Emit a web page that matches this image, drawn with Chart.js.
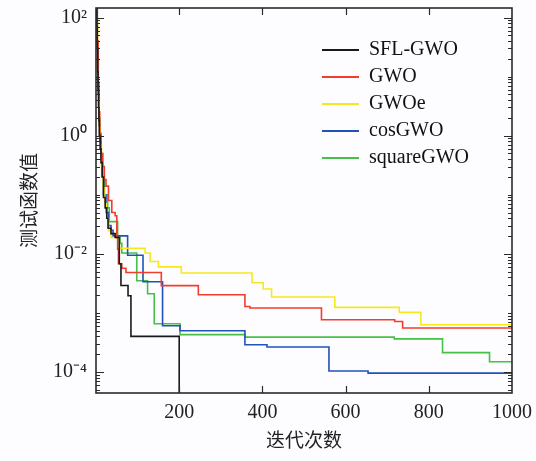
<!DOCTYPE html>
<html>
<head>
<meta charset="utf-8">
<script src="https://cdn.jsdelivr.net/npm/chart.js@4.4.0/dist/chart.umd.min.js"></script>
<style>
    body { margin: 0; background: #fdfdff; }
    canvas { display: block; }
</style>
</head>
<body>
<canvas id="convChart" width="536" height="461"></canvas>
<script>
// convergence curves (iteration where a level starts, level)
const seriesNames = ['SFL-GWO', 'GWO', 'GWOe', 'cosGWO', 'squareGWO'];
const seriesColors = ['#1a1a1a', '#f23c2c', '#f7e81e', '#2252b8', '#46c046'];

const sflIter = [1, 2, 3, 4, 5, 6, 7, 8, 10, 12, 15, 18, 22, 26, 29, 36, 46, 56, 60, 77, 84, 200, 1000];
const sflVal = [150, 70, 30, 12, 6, 3, 1.8, 1.0, 0.6, 0.35, 0.2, 0.09, 0.06, 0.04, 0.027, 0.022, 0.019, 0.0068, 0.0029, 0.00195, 0.0004, 1e-10, 1e-10];

const gwoIter = [1, 3, 5, 7, 9, 12, 16, 20, 24, 30, 38, 46, 50, 52, 54, 62, 72, 157, 246, 358, 370, 542, 718, 737, 1000];
const gwoVal = [150, 40, 8, 2.5, 1.1, 0.5, 0.3, 0.18, 0.14, 0.08, 0.05, 0.044, 0.019, 0.012, 0.0068, 0.0057, 0.00483, 0.00289, 0.00203, 0.00128, 0.00121, 0.000766, 0.000716, 0.000554, 0.000554];

const gwoeIter = [1, 2, 4, 6, 8, 10, 13, 17, 21, 25, 30, 36, 56, 118, 130, 150, 205, 375, 402, 422, 574, 729, 781, 1000];
const gwoeVal = [150, 80, 20, 4, 1.4, 0.7, 0.3, 0.13, 0.07, 0.04, 0.0245, 0.0189, 0.0124, 0.0103, 0.0074, 0.0060, 0.00472, 0.00324, 0.00253, 0.00186, 0.00124, 0.00102, 0.00063, 0.00063];

const cosIter = [1, 3, 5, 7, 9, 12, 15, 18, 24, 30, 36, 41, 76, 113, 160, 202, 358, 411, 560, 654, 1000];
const cosVal = [150, 30, 5, 1.5, 0.8, 0.4, 0.2, 0.1, 0.05, 0.03, 0.025, 0.0201, 0.00944, 0.00337, 0.000607, 0.000499, 0.000289, 0.000264, 0.000104, 0.0000955, 0.0000955];

const sqIter = [1, 3, 5, 7, 9, 12, 16, 20, 28, 32, 52, 58, 62, 98, 124, 140, 202, 358, 717, 833, 946, 1000];
const sqVal = [150, 40, 7, 2, 1, 0.5, 0.22, 0.1, 0.06, 0.035, 0.02, 0.015, 0.0103, 0.0035, 0.00211, 0.000656, 0.000428, 0.000389, 0.000363, 0.000212, 0.000149, 0.000149];

const xTicks = [200, 400, 600, 800, 1000];
const yLabelExps = [-4, -2, 0, 2];
const yMin = 4.4e-5, yMax = 1.45e2;

const allIter = [sflIter, gwoIter, gwoeIter, cosIter, sqIter];
const allVal = [sflVal, gwoVal, gwoeVal, cosVal, sqVal];

const sup = {'2': '²', '0': '⁰', '-2': '⁻²', '-4': '⁻⁴'};
const serif = 'Liberation Serif';

function expOf(v) {
    const e = Math.log10(v);
    return Math.abs(e - Math.round(e)) < 1e-6 ? Math.round(e) : null;
}

// all the 1..9 x 10^n minor positions within the axis range
const yTickValues = [];
for (let e = -5; e <= 2; e++) {
    for (let k = 1; k <= 9; k++) {
        const v = k * Math.pow(10, e);
        if (v >= yMin && v <= yMax) yTickValues.push(v);
    }
}

const datasets = seriesNames.map((name, i) => ({
    label: name,
    data: allIter[i].map((x, j) => ({x: x, y: allVal[i][j]})),
    borderColor: seriesColors[i],
    backgroundColor: seriesColors[i],
    borderWidth: 1.6,
    pointRadius: 0,
    stepped: 'before',
    fill: false
}));

// box around the plot with inward ticks on all four sides
const frameTicks = {
    id: 'frameTicks',
    afterLayout(chart) {
        const lg = chart.legend;
        lg.left = 315;
        lg.right = 512;
        lg.top = 33;
        lg.bottom = 393;
    },
    afterDraw(chart) {
        const {ctx, chartArea: a, scales: {x, y}} = chart;
        ctx.save();
        ctx.strokeStyle = '#2a2a2a';
        ctx.lineWidth = 1.2;
        ctx.beginPath();
        x.ticks.forEach(t => {
            if (t.value <= x.min || t.value >= x.max) return;
            const px = Math.round(x.getPixelForValue(t.value)) + 0.5;
            ctx.moveTo(px, a.bottom);
            ctx.lineTo(px, a.bottom - 7);
            ctx.moveTo(px, a.top);
            ctx.lineTo(px, a.top + 7);
        });
        y.ticks.forEach(t => {
            const py = Math.round(y.getPixelForValue(t.value)) + 0.5;
            const e = expOf(t.value);
            const len = (e !== null && yLabelExps.includes(e)) ? 8 : 4;
            ctx.moveTo(a.left, py);
            ctx.lineTo(a.left + len, py);
            ctx.moveTo(a.right, py);
            ctx.lineTo(a.right - len, py);
        });
        ctx.stroke();
        ctx.lineWidth = 1.6;
        ctx.strokeRect(a.left, a.top, a.right - a.left, a.bottom - a.top);
        ctx.restore();
    }
};

new Chart(document.getElementById('convChart'), {
    type: 'line',
    data: {datasets: datasets},
    options: {
        responsive: false,
        animation: false,
        layout: {padding: {top: 8, right: 24, left: 0, bottom: 0}},
        plugins: {
            tooltip: {enabled: false},
            legend: {
                position: 'chartArea',
                align: 'start',
                labels: {
                    boxWidth: 37,
                    boxHeight: 2,
                    padding: 7,
                    color: '#111',
                    font: {family: serif, size: 20},
                    generateLabels(chart) {
                        return Chart.defaults.plugins.legend.labels.generateLabels(chart).map(item => {
                            item.lineWidth = 0;
                            item.fillStyle = item.strokeStyle;
                            return item;
                        });
                    }
                }
            }
        },
        scales: {
            x: {
                type: 'linear',
                min: 0,
                max: 1000,
                grid: {display: false, drawTicks: false},
                border: {display: false},
                afterBuildTicks(scale) {
                    scale.ticks = xTicks.map(v => ({value: v}));
                },
                afterFit(scale) {
                    scale.height = 68;
                    scale.paddingLeft = 0;
                    scale.paddingRight = 0;
                },
                ticks: {
                    padding: 8,
                    color: '#222',
                    font: {family: serif, size: 20},
                    maxRotation: 0,
                    autoSkip: false,
                    callback: v => String(v)
                },
                title: {
                    display: true,
                    text: '迭代次数',
                    color: '#222',
                    font: {family: 'Noto Sans CJK SC', size: 19},
                    padding: {top: 0, bottom: 10}
                }
            },
            y: {
                type: 'logarithmic',
                min: yMin,
                max: yMax,
                grid: {display: false, drawTicks: false},
                border: {display: false},
                afterBuildTicks(scale) {
                    scale.ticks = yTickValues.map(v => ({value: v}));
                },
                afterFit(scale) {
                    scale.width = 96;
                    scale.paddingTop = 0;
                    scale.paddingBottom = 0;
                },
                ticks: {
                    padding: 9,
                    color: '#222',
                    autoSkip: false,
                    font: {family: serif, size: 20},
                    callback(v) {
                        const e = expOf(v);
                        return (e !== null && yLabelExps.includes(e)) ? '10' + sup[String(e)] : '';
                    }
                },
                title: {
                    display: true,
                    text: '测试函数值',
                    color: '#222',
                    font: {family: 'Noto Sans CJK SC', size: 19},
                    padding: {top: 17, bottom: 0}
                }
            }
        }
    },
    plugins: [frameTicks]
});
</script>
</body>
</html>
